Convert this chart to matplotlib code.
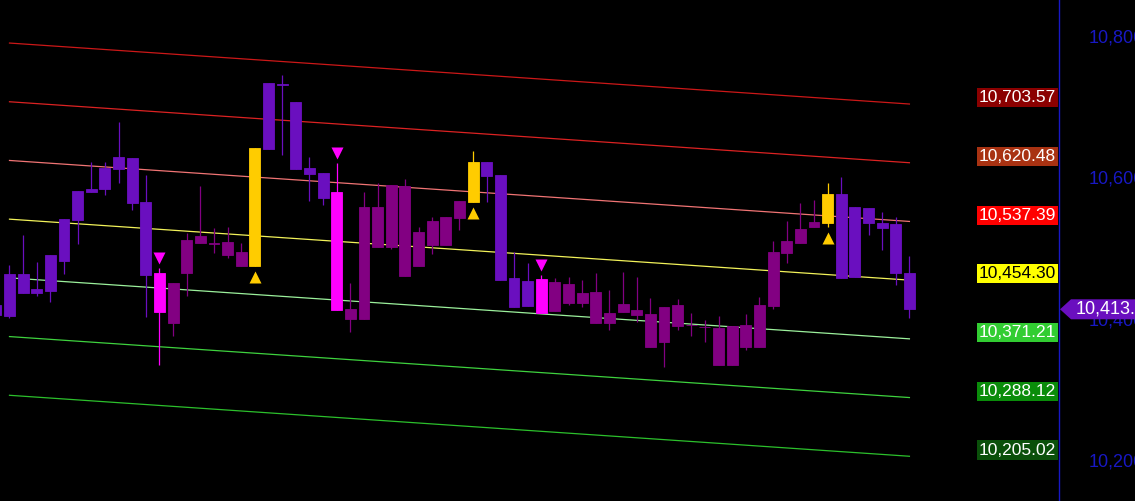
import matplotlib
matplotlib.use('Agg')
import matplotlib.pyplot as plt
from matplotlib.patches import Polygon
from matplotlib.transforms import IdentityTransform, blended_transform_factory

plt.rcParams['font.family'] = ['Liberation Sans', 'DejaVu Sans']

# candle data (price), first candle is cut by the left edge
opens = [10419.1, 10463.0, 10463.0, 10441.7, 10489.9, 10540.8, 10580.5, 10583.3, 10613.0, 10628.6,
         10627.2, 10564.9, 10464.4, 10393.6, 10464.4, 10506.9, 10506.1, 10489.9, 10474.3, 10474.3,
         10733.3, 10731.9, 10706.4, 10613.0, 10605.9, 10579.0, 10399.3, 10399.3, 10501.2, 10501.2,
         10460.2, 10474.3, 10504.1, 10504.1, 10542.2, 10564.9, 10621.5, 10603.1, 10457.3, 10453.1,
         10455.9, 10410.6, 10421.9, 10421.9, 10393.6, 10393.6, 10409.2, 10405.0, 10359.6, 10366.7,
         10389.4, 10390.1, 10387.3, 10334.2, 10334.2, 10359.6, 10359.6, 10417.7, 10492.7, 10506.9,
         10529.5, 10535.2, 10576.2, 10557.8, 10556.4, 10535.2, 10533.8, 10464.4]
highs = [10421.9, 10475.7, 10518.2, 10480.0, 10489.9, 10540.8, 10580.5, 10621.5, 10621.5, 10678.1,
         10627.2, 10603.1, 10471.5, 10450.2, 10521.0, 10587.5, 10528.1, 10529.5, 10506.9, 10641.3,
         10733.3, 10744.6, 10706.4, 10628.6, 10605.9, 10620.1, 10450.2, 10579.0, 10591.8, 10588.9,
         10597.4, 10529.5, 10543.6, 10543.6, 10566.3, 10637.1, 10621.5, 10603.1, 10494.1, 10478.6,
         10461.6, 10457.3, 10458.7, 10454.5, 10464.4, 10440.3, 10465.8, 10458.7, 10429.0, 10416.3,
         10427.6, 10407.8, 10397.9, 10403.5, 10389.4, 10406.4, 10430.4, 10509.7, 10538.0, 10563.5,
         10567.7, 10591.8, 10600.3, 10557.8, 10556.4, 10550.7, 10543.6, 10488.5]
lows = [10400.7, 10400.7, 10436.1, 10431.8, 10423.3, 10463.0, 10505.5, 10579.0, 10574.8, 10591.8,
        10553.6, 10402.1, 10334.2, 10375.2, 10431.8, 10506.9, 10492.7, 10485.6, 10474.3, 10474.3,
        10639.9, 10631.4, 10611.6, 10566.3, 10560.6, 10412.0, 10380.9, 10399.3, 10501.2, 10498.4,
        10460.2, 10474.3, 10491.3, 10504.1, 10525.3, 10564.9, 10564.9, 10454.5, 10416.3, 10417.7,
        10407.8, 10410.6, 10419.1, 10416.3, 10393.6, 10383.7, 10409.2, 10395.1, 10359.6, 10331.3,
        10383.7, 10375.2, 10366.7, 10334.2, 10334.2, 10355.4, 10359.6, 10413.4, 10478.6, 10506.9,
        10529.5, 10529.5, 10457.3, 10458.7, 10518.2, 10497.0, 10447.4, 10400.7]
closes = [10405.0, 10403.5, 10436.1, 10436.1, 10438.9, 10481.4, 10539.4, 10579.0, 10583.3, 10611.6,
          10563.5, 10461.6, 10409.2, 10450.2, 10511.1, 10516.8, 10506.9, 10508.3, 10494.1, 10641.3,
          10639.9, 10731.2, 10611.6, 10604.5, 10570.5, 10412.0, 10413.4, 10557.8, 10557.8, 10588.9,
          10587.5, 10522.4, 10538.0, 10543.6, 10566.3, 10621.5, 10601.7, 10454.5, 10416.3, 10417.7,
          10407.8, 10451.7, 10448.8, 10436.1, 10437.5, 10407.8, 10420.5, 10412.0, 10406.4, 10416.3,
          10419.1, 10390.8, 10388.0, 10386.6, 10389.4, 10390.8, 10419.1, 10494.1, 10509.7, 10526.7,
          10536.6, 10576.2, 10457.3, 10458.7, 10535.2, 10528.1, 10464.4, 10413.05]
# v = violet, p = purple, m = sell signal (magenta), g = buy signal (gold)
kinds = 'vvvvvvvvvvvvmppppppgvvvvvmpppppppppgvvvvmppppppppppppppppppppgvvvvvv'

# regression channel: value of each line on the last bar, and how much it falls over the period
channel_end = [10703.57, 10620.48, 10537.39, 10454.30, 10371.21, 10288.12, 10205.02]
channel_drop = 86.3
line_colors = ['#cc1818', '#dc2222', '#f07474', '#f2f25a', '#9cf09c', '#3ed23e', '#2cc02c']
box_colors = ['#8b0000', '#a83212', '#ff0000', '#ffff00', '#32cd32', '#0a8c0a', '#0a500a']

yticks = [10200, 10400, 10600, 10800]

colors = {'v': '#6a0fbf', 'p': '#820082', 'm': '#ff00ff', 'g': '#ffcc00'}
axis_blue = '#1818c4'

fig = plt.figure(figsize=(11.35, 5.01), dpi=100, facecolor='black')
ax = fig.add_axes([0, 0, 1059 / 1135, 1])
ax.set_facecolor('black')

n = len(opens)
xs = list(range(n))
ccol = [colors[k] for k in kinds]

# channel lines
x_first, x_last = 1, n - 1
for v, c in zip(channel_end, line_colors):
    ax.plot([x_first, x_last], [v + channel_drop, v], color=c, lw=0.9, zorder=1)

# candles
ax.vlines(xs, lows, highs, colors=ccol, lw=0.9, zorder=2)
bottoms = [min(o, c) for o, c in zip(opens, closes)]
heights = [abs(c - o) for o, c in zip(opens, closes)]
ax.bar(xs, heights, bottom=bottoms, width=0.8, color=ccol, edgecolor=ccol, lw=0.6, zorder=3)

# signal markers
for i, k in enumerate(kinds):
    if k == 'm':
        ax.plot(i, highs[i] + 14.2, marker='v', ms=8.5, color=colors['m'], mec='none', zorder=4)
    elif k == 'g':
        ax.plot(i, lows[i] - 15.0, marker='^', ms=8.5, color=colors['g'], mec='none', zorder=4)

ax.set_xlim(0.3035, 77.97)
ax.set_ylim(10141.7, 10850.8)

# channel value tags at the right edge
trans = blended_transform_factory(ax.transAxes, ax.transData)
for v, bc in zip(channel_end, box_colors):
    tc = 'black' if bc == '#ffff00' else 'white'
    ax.annotate(f'{v:,.2f}', xy=(1, v), xycoords=trans, xytext=(-2, 4.5),
                textcoords='offset points', ha='right', va='center', fontsize=12.5,
                color=tc, zorder=6,
                bbox=dict(boxstyle='square,pad=0.12', fc=bc, ec='none'))

# axis styling
for s in ['left', 'top', 'bottom']:
    ax.spines[s].set_visible(False)
ax.spines['right'].set_color(axis_blue)
ax.spines['right'].set_linewidth(1.0)
ax.set_xticks([])
ax.yaxis.tick_right()
ax.set_yticks(yticks)
ax.set_yticklabels([f'{t:,}' for t in yticks])
ax.tick_params(axis='y', length=0, pad=21, labelcolor=axis_blue, labelsize=13)

# last price tag
yp = ax.transData.transform((0, closes[-1]))[1]
tag = Polygon([[1060, yp], [1071, yp + 10], [1140, yp + 10], [1140, yp - 10], [1071, yp - 10]],
              closed=True, transform=IdentityTransform(), fc=colors['v'], ec='none', zorder=5)
fig.add_artist(tag)
fig.text(1076, yp, f'{closes[-1]:,.2f}', transform=IdentityTransform(), color='white',
         fontsize=13, va='center', ha='left', zorder=6)

fig.savefig('out.png', dpi=100, facecolor='black')
